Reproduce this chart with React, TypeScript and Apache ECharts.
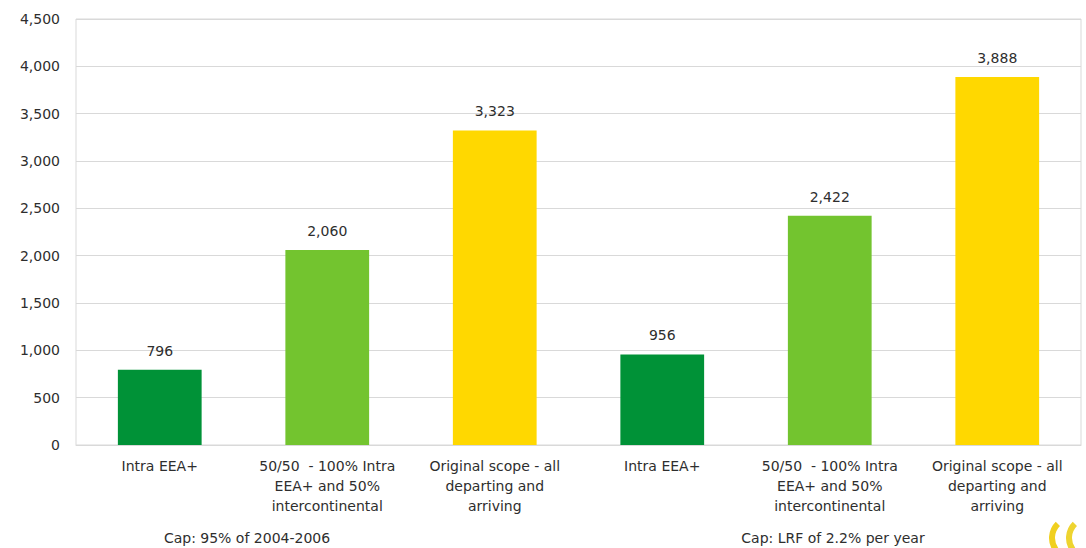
import React, { useEffect, useRef } from "react";
import * as echarts from "echarts";

const categories = [
  "Intra EEA+",
  "50/50  - 100% Intra\nEEA+ and 50%\nintercontinental",
  "Original scope - all\ndeparting and\narriving",
  "Intra EEA+",
  "50/50  - 100% Intra\nEEA+ and 50%\nintercontinental",
  "Original scope - all\ndeparting and\narriving",
];
const values = [796, 2060, 3323, 956, 2422, 3888];
const barColors = ["#009237", "#73c42f", "#ffd800", "#009237", "#73c42f", "#ffd800"];
const groupCaptions = ["Cap: 95% of 2004-2006", "Cap: LRF of 2.2% per year"];

const FONT = "DejaVu Sans";
const TEXT = "#2e2e2e";

export default function App() {
  const ref = useRef<HTMLDivElement>(null);
  useEffect(() => {
    const chart = echarts.init(ref.current!, null, { renderer: "svg" });
    chart.setOption({
      animation: false,
      backgroundColor: "#ffffff",
      grid: {
        left: 76,
        right: 5,
        top: 19,
        bottom: 103,
        show: true,
        borderColor: "#d9d9d9",
        borderWidth: 1,
      },
      xAxis: {
        type: "category",
        data: categories,
        axisLine: { lineStyle: { color: "#d9d9d9" } },
        axisTick: { show: false },
        axisLabel: {
          interval: 0,
          color: TEXT,
          fontFamily: FONT,
          fontSize: 14,
          lineHeight: 20,
          margin: 11,
        },
      },
      yAxis: {
        type: "value",
        min: 0,
        max: 4500,
        interval: 500,
        axisLine: { show: false },
        axisTick: { show: false },
        splitLine: { lineStyle: { color: "#d9d9d9" } },
        axisLabel: {
          color: TEXT,
          fontFamily: FONT,
          fontSize: 14,
          margin: 16,
          formatter: (v: number) => v.toLocaleString("en-US"),
        },
      },
      series: [
        {
          type: "bar",
          data: values.map((v, i) => ({ value: v, itemStyle: { color: barColors[i] } })),
          barWidth: "50%",
          label: {
            show: true,
            position: "top",
            distance: 12,
            color: TEXT,
            fontFamily: FONT,
            fontSize: 14,
            formatter: (p: any) => Number(p.value).toLocaleString("en-US"),
          },
        },
      ],
      graphic: [
        {
          type: "text",
          x: 247,
          y: 538,
          style: {
            text: groupCaptions[0],
            fill: TEXT,
            font: `14px "${FONT}"`,
            textAlign: "center",
            textVerticalAlign: "middle",
          },
        },
        {
          type: "text",
          x: 833,
          y: 538,
          style: {
            text: groupCaptions[1],
            fill: TEXT,
            font: `14px "${FONT}"`,
            textAlign: "center",
            textVerticalAlign: "middle",
          },
        },
        {
          type: "arc",
          shape: { cx: 1072, cy: 538, r: 20, startAngle: Math.PI * 0.8, endAngle: Math.PI * 1.25 },
          style: { stroke: "#f0d020", lineWidth: 6, fill: "none" },
        },
        {
          type: "arc",
          shape: { cx: 1089, cy: 538, r: 20, startAngle: Math.PI * 0.8, endAngle: Math.PI * 1.25 },
          style: { stroke: "#eed430", lineWidth: 6, fill: "none" },
        },
      ],
    });
    return () => chart.dispose();
  }, []);
  return (
    <div
      ref={ref}
      style={{ position: "absolute", left: 0, top: 0, width: 1086, height: 548 }}
    />
  );
}
